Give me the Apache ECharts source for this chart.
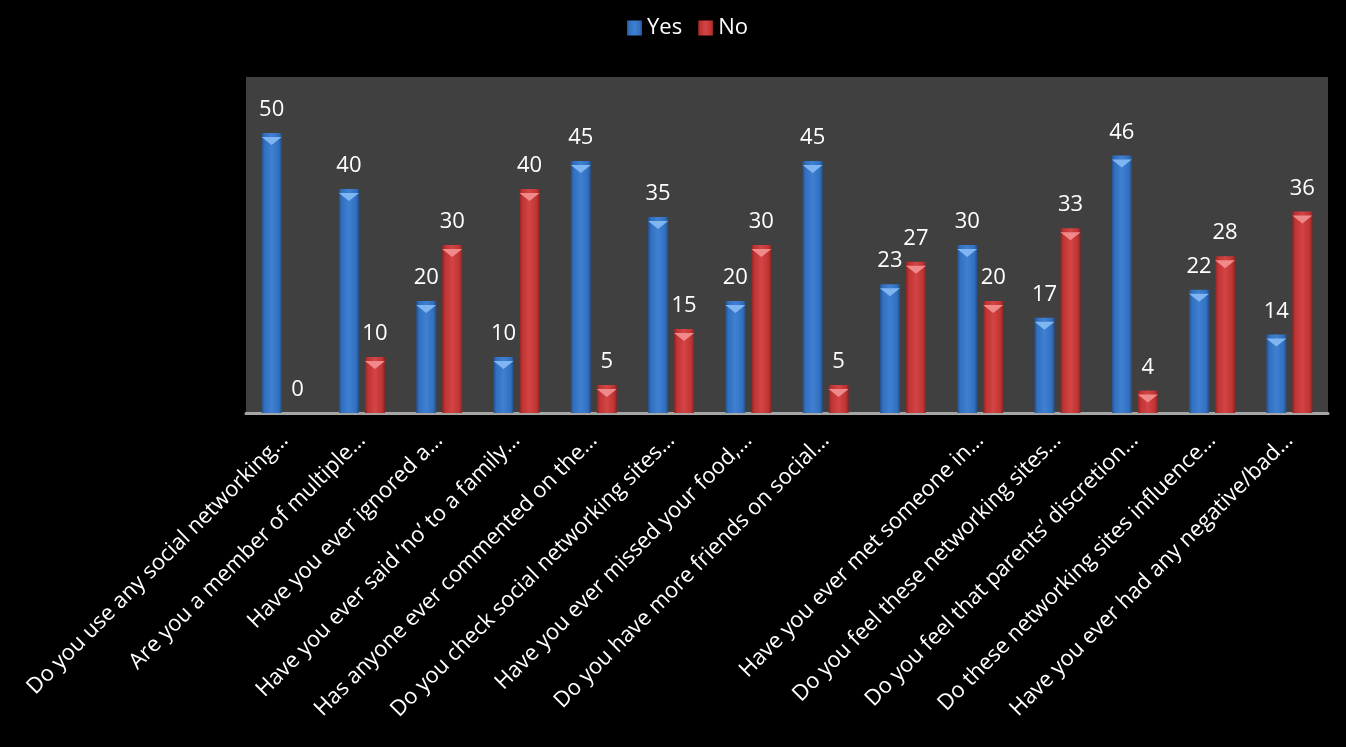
<!DOCTYPE html>
<html>
<head>
<meta charset="utf-8">
<script src="https://cdn.jsdelivr.net/npm/echarts@6/dist/echarts.min.js"></script>
<style>
  html, body { margin: 0; padding: 0; background: #000; }
</style>
</head>
<body>
<div id="container" style="width: 1346px; height: 747px"></div>
<script>
const questions = [
  "Do you use any social networking…",
  "Are you a member of multiple…",
  "Have you ever ignored a…",
  "Have you ever said ‘no’ to a family…",
  "Has anyone ever commented on the…",
  "Do you check social networking sites…",
  "Have you ever missed your food,…",
  "Do you have more friends on social…",
  "",
  "Have you ever met someone in…",
  "Do you feel these networking sites…",
  "Do you feel that parents’ discretion…",
  "Do these networking sites influence…",
  "Have you ever had any negative/bad…"
];
const yesCounts = [50, 40, 20, 10, 45, 35, 20, 45, 23, 30, 17, 46, 22, 14];
const noCounts = [0, 10, 30, 40, 5, 15, 30, 5, 27, 20, 33, 4, 28, 36];

function barColor(dark, mid, light) {
  return new echarts.graphic.LinearGradient(0, 0, 1, 0, [
    { offset: 0, color: dark },
    { offset: 0.15, color: mid },
    { offset: 0.5, color: light },
    { offset: 0.85, color: mid },
    { offset: 1, color: dark }
  ]);
}

const chart = echarts.init(document.getElementById("container"));

const labelStyle = {
  show: true,
  position: "top",
  distance: 12,
  color: "#ffffff",
  fontSize: 22,
  fontFamily: "Open Sans"
};

// small light triangle on top of each bar
function capSeries(name, values, color) {
  return {
    name: name,
    type: "pictorialBar",
    data: values.map((v) => (v > 0 ? v : null)),
    symbol: "path://M0,0 L20,0 L10,8 Z",
    symbolSize: [20, 8],
    symbolPosition: "end",
    symbolOffset: [0, "50%"],
    barWidth: 20,
    barGap: "30%",
    itemStyle: { color: color },
    silent: true,
    z: 3
  };
}

chart.setOption({
  backgroundColor: "#000000",
  animation: false,
  legend: {
    top: 12,
    left: 622,
    itemWidth: 15,
    itemHeight: 15,
    itemGap: 16,
    icon: "rect",
    textStyle: { color: "#ffffff", fontSize: 22, fontFamily: "Open Sans" },
    data: ["Yes", "No"]
  },
  grid: {
    left: 246,
    right: 18,
    top: 77,
    bottom: 334,
    show: true,
    backgroundColor: "#404040",
    borderWidth: 0
  },
  xAxis: {
    type: "category",
    data: questions,
    axisLine: { lineStyle: { color: "#a6a6a6", width: 3 } },
    axisTick: { show: false },
    axisLabel: {
      rotate: 45,
      interval: 0,
      color: "#ffffff",
      fontSize: 22,
      fontFamily: "Open Sans",
      margin: 24
    }
  },
  yAxis: {
    type: "value",
    min: 0,
    max: 60,
    show: false,
    splitLine: { show: false }
  },
  series: [
    {
      name: "Yes",
      type: "bar",
      data: yesCounts,
      barWidth: 20,
      barGap: "30%",
      itemStyle: { color: barColor("#24508c", "#3270c0", "#3f80d2") },
      label: labelStyle
    },
    {
      name: "No",
      type: "bar",
      data: noCounts,
      barWidth: 20,
      itemStyle: { color: barColor("#8c2424", "#c03434", "#d44444") },
      label: labelStyle
    },
    capSeries("Yes cap", yesCounts, "#7fb6f2"),
    capSeries("No cap", noCounts, "#f08a8a")
  ]
});
</script>
</body>
</html>
